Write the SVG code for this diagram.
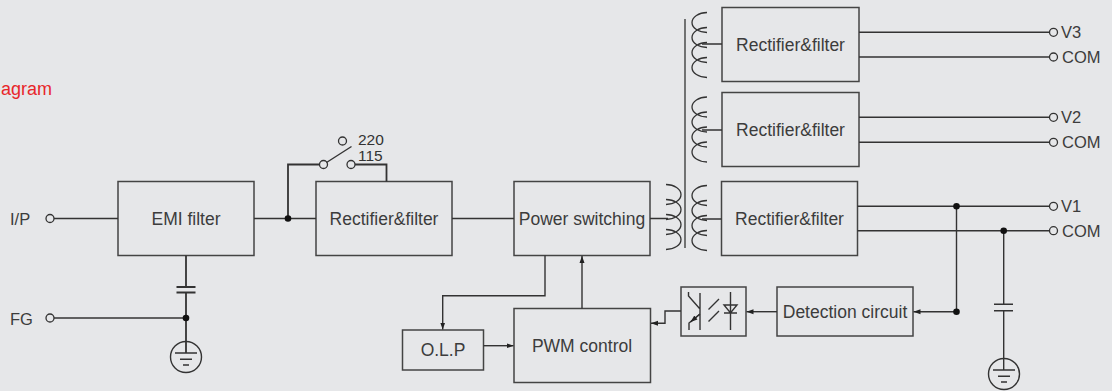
<svg xmlns="http://www.w3.org/2000/svg" width="1112" height="391" viewBox="0 0 1112 391">
<style>
.bg{fill:#e6e7e9}
.box{fill:none;stroke:#444;stroke-width:1.5}
.w{fill:none;stroke:#333;stroke-width:1.4}
.wt{fill:none;stroke:#333;stroke-width:1.8}
.t{font-family:"Liberation Sans",Arial,sans-serif;font-size:17.5px;fill:#3c3c3c;text-anchor:middle;dominant-baseline:central}
.lbl{font-family:"Liberation Sans",Arial,sans-serif;font-size:16.5px;fill:#3c3c3c;dominant-baseline:central}
.dot{fill:#111}
.term{fill:#e6e7e9;stroke:#333;stroke-width:1.3}
.coil{fill:none;stroke:#333;stroke-width:1.3}
</style>
<defs>
<marker id="ah" markerUnits="userSpaceOnUse" markerWidth="8" markerHeight="6" refX="7" refY="3" orient="auto">
<path d="M0,0.5 L7,3 L0,5.5 z" fill="#222"/>
</marker>
</defs>
<rect class="bg" x="0" y="0" width="1112" height="391"/>
<text x="52" y="89" font-family="Liberation Sans,Arial,sans-serif" font-size="18" fill="#e8262a" text-anchor="end" dominant-baseline="central">agram</text>

<g id="emi"><rect class="box" x="118" y="181.5" width="136" height="74"/><text class="t" x="186" y="218.5">EMI filter</text></g>
<g id="rect0"><rect class="box" x="316" y="181.5" width="136" height="74"/><text class="t" x="384" y="218.5">Rectifier&amp;filter</text></g>
<g id="psw"><rect class="box" x="514" y="181.5" width="136" height="74"/><text class="t" x="582" y="218.5">Power switching</text></g>
<g id="rect3"><rect class="box" x="722" y="7.5" width="137" height="74"/><text class="t" x="790.5" y="44.5">Rectifier&amp;filter</text></g>
<g id="rect2"><rect class="box" x="722" y="92.5" width="137" height="74"/><text class="t" x="790.5" y="129.5">Rectifier&amp;filter</text></g>
<g id="rect1"><rect class="box" x="721.5" y="181.5" width="136" height="74"/><text class="t" x="789.5" y="218.5">Rectifier&amp;filter</text></g>
<g id="olp"><rect class="box" x="402.5" y="330" width="81" height="40"/><text class="t" x="443" y="350">O.L.P</text></g>
<g id="pwm"><rect class="box" x="514" y="308.5" width="136.5" height="74"/><text class="t" x="582" y="346">PWM control</text></g>
<g id="det"><rect class="box" x="777" y="287" width="136" height="49"/><text class="t" x="845" y="311.5">Detection circuit</text></g>
<g id="opto">
<rect class="box" x="681" y="287" width="65" height="49"/>
<path class="w" d="M700,293 V330 M688.5,292 V296 L700,309 M700,314 L689,323 V330"/>
<path class="w" d="M719,299 L708.5,309.5 M719,311 L708.5,321.5 M700,314 L690.5,322" marker-end="url(#ah)"/>
<path class="w" d="M730.5,292 V330 M724,305 H737 L730.5,313 Z M724,313 H737"/>
</g>
<g id="transformer">
<path class="coil" d="M685,19 V248" stroke-width="1.6"/>
<path class="coil" d="M666,184.5 A15 10 0 0 1 666,204.5 M666,199.5 A15 10 0 0 1 666,219.5 M666,214.5 A15 10 0 0 1 666,234.5 M666,229.5 A15 10 0 0 1 666,249.5"/>
<path class="coil" d="M707,12.5 A15 10 0 0 0 707,32.5 M707,27.5 A15 10 0 0 0 707,47.5 M707,42.5 A15 10 0 0 0 707,62.5 M707,57.5 A15 10 0 0 0 707,77.5"/>
<path class="coil" d="M707,97 A15 10 0 0 0 707,117 M707,112 A15 10 0 0 0 707,132 M707,127 A15 10 0 0 0 707,147 M707,142 A15 10 0 0 0 707,162"/>
<path class="coil" d="M707,185.5 A15 10 0 0 0 707,205.5 M707,200.5 A15 10 0 0 0 707,220.5 M707,215.5 A15 10 0 0 0 707,235.5 M707,230.5 A15 10 0 0 0 707,250.5"/>
</g>
<g id="ground1">
<circle class="w" cx="186" cy="357" r="15.5"/>
<path class="w" d="M175,353 H197 M180,359.3 H192 M183,365 H189"/>
</g>
<g id="ground2">
<circle class="w" cx="1004" cy="374" r="15.5"/>
<path class="w" d="M993,370 H1015 M998,376.3 H1010 M1001,382 H1007"/>
</g>
<g id="terminals">
<circle class="term" cx="50" cy="218.5" r="4"/>
<text class="lbl" x="10" y="218.5" font-size="15">I/P</text>
<circle class="term" cx="50" cy="318" r="4"/>
<text class="lbl" x="10" y="318.5" font-size="15">FG</text>
<circle class="term" cx="342.5" cy="141" r="4"/>
<circle class="term" cx="323.5" cy="164.5" r="4"/>
<circle class="term" cx="351" cy="164.5" r="4"/>
<text x="358" y="139.5" font-family="Liberation Sans,Arial,sans-serif" font-size="15.5" fill="#333" dominant-baseline="central">220</text>
<text x="358" y="155" font-family="Liberation Sans,Arial,sans-serif" font-size="15.5" fill="#333" dominant-baseline="central">115</text>
<circle class="term" cx="1053.5" cy="32.3" r="4"/><text class="lbl" x="1061" y="32.3">V3</text>
<circle class="term" cx="1053.5" cy="57" r="4"/><text class="lbl" x="1062" y="57">COM</text>
<circle class="term" cx="1053.5" cy="117.3" r="4"/><text class="lbl" x="1061" y="117.3">V2</text>
<circle class="term" cx="1053.5" cy="142.3" r="4"/><text class="lbl" x="1062" y="142.3">COM</text>
<circle class="term" cx="1053.5" cy="206.3" r="4"/><text class="lbl" x="1061" y="206.3">V1</text>
<circle class="term" cx="1053.5" cy="230.7" r="4"/><text class="lbl" x="1062" y="230.7">COM</text>
</g>
<g id="connectors">
<path class="w" d="M54,218.5 H118 M254,218.5 H316 M452,218.5 H514 M650,218.5 H668"/>
<path class="w" d="M54,318 H186"/>
<path class="wt" d="M186,255.5 V287 M176.5,287 H195.5 M176.5,292.5 H195.5 M186,292.5 V353"/>
<path class="wt" d="M288,218.5 V164.5 H319.5"/>
<path class="w" d="M326.5,162.5 L351.5,146.5"/>
<path class="wt" d="M355,164.5 H386.5 V181.5"/>
<path class="w" d="M702,44 H722 M702,130 H722 M702,219 H721.5"/>
<path class="w" d="M859,32.3 H1049.5 M859,57 H1049.5 M859,117.3 H1049.5 M859,142.3 H1049.5 M857.5,206.3 H1049.5 M857.5,230.7 H1049.5"/>
<path class="w" d="M956.5,206.3 V311.7"/>
<path class="w" d="M956.5,311.7 H913.5" marker-end="url(#ah)"/>
<path class="w" d="M1003.7,230.7 V304.3 M994,304.3 H1013 M994,310.7 H1013 M1003.7,310.7 V370"/>
<path class="w" d="M777,311.7 H746.5" marker-end="url(#ah)"/>
<path class="w" d="M681,311 H665 V323.3 H651" marker-end="url(#ah)"/>
<path class="w" d="M582,308.5 V256" marker-end="url(#ah)"/>
<path class="w" d="M545,255.5 V295.7 H442.7 V329.5" marker-end="url(#ah)"/>
<path class="w" d="M483.5,345.7 H513.5" marker-end="url(#ah)"/>
<circle class="dot" cx="288" cy="218.5" r="3.3"/>
<circle class="dot" cx="186" cy="318" r="3.3"/>
<circle class="dot" cx="956.5" cy="206.3" r="3.3"/>
<circle class="dot" cx="1003.7" cy="230.7" r="3.3"/>
<circle class="dot" cx="956.5" cy="311.7" r="3.3"/>
</g>
</svg>
